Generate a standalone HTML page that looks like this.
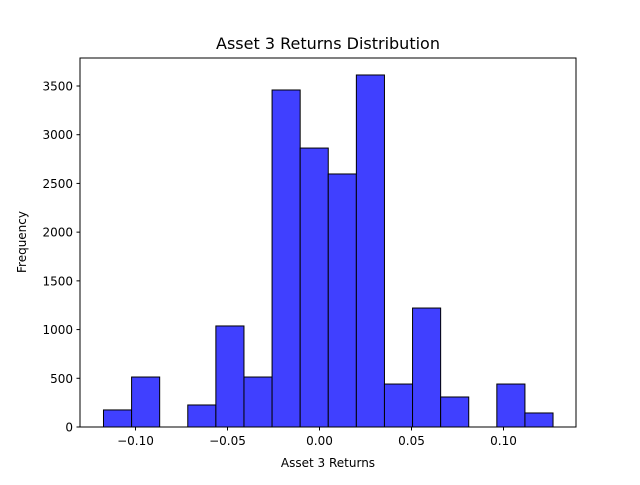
<!DOCTYPE html>
<html><head><meta charset="utf-8"><style>
body{margin:0;background:#fff;}
svg text{font-family:"DejaVu Sans","Liberation Sans",sans-serif;fill:#000;}
</style></head><body>
<svg id="chart" width="640" height="480">
<rect x="0" y="0" width="640" height="480" fill="#fff"/>
<text x="328" y="49" font-size="16" text-anchor="middle">Asset 3 Returns Distribution</text>
<g id="bars"></g>
<g id="xticks"></g>
<g id="yticks"></g>
<rect x="80" y="58" width="496" height="369" fill="none" stroke="#000" stroke-width="1"/>
<text x="328" y="467" font-size="12" text-anchor="middle">Asset 3 Returns</text>
<text x="26" y="242" font-size="12" text-anchor="middle" transform="rotate(-90 26 242)">Frequency</text>
</svg>
<script>
const binStart = -0.1174;
const binWidth = 0.01527;
const counts = [175, 513, 0, 226, 1037, 513, 3459, 2863, 2597, 3613, 441, 1221, 308, 0, 441, 144];
const xTickValues = [-0.10, -0.05, 0.00, 0.05, 0.10];
const xTickLabels = ["\u22120.10", "\u22120.05", "0.00", "0.05", "0.10"];
const yTickValues = [0, 500, 1000, 1500, 2000, 2500, 3000, 3500];
const yTickLabels = ["0", "500", "1000", "1500", "2000", "2500", "3000", "3500"];

const NS = "http://www.w3.org/2000/svg";
function xs(v){ return 319.5 + v * 1840; }
function ys(v){ return 427 - v * 0.09743; }
const bars = document.getElementById('bars');
counts.forEach((c, i) => {
  if (c <= 0) return;
  const x0 = xs(binStart + i * binWidth), x1 = xs(binStart + (i + 1) * binWidth);
  const r = document.createElementNS(NS, 'rect');
  r.setAttribute('x', x0); r.setAttribute('width', x1 - x0);
  r.setAttribute('y', ys(c)); r.setAttribute('height', ys(0) - ys(c));
  r.setAttribute('fill', 'rgb(64,64,255)'); r.setAttribute('stroke', '#000'); r.setAttribute('stroke-width', '1');
  
  
  bars.appendChild(r);
});
const xg = document.getElementById('xticks');
xTickValues.forEach((v, i) => {
  const x = xs(v);
  const l = document.createElementNS(NS, 'line');
  l.setAttribute('x1', x); l.setAttribute('x2', x); l.setAttribute('y1', 427); l.setAttribute('y2', 430.5);
  l.setAttribute('stroke', '#000');
  
  
  xg.appendChild(l);
  const t = document.createElementNS(NS, 'text');
  t.setAttribute('x', x); t.setAttribute('y', 445); t.setAttribute('font-size', '12'); t.setAttribute('text-anchor', 'middle');
  t.textContent = xTickLabels[i];
  
  
  xg.appendChild(t);
});
const yg = document.getElementById('yticks');
yTickValues.forEach((v, i) => {
  const y = ys(v);
  const l = document.createElementNS(NS, 'line');
  l.setAttribute('x1', 76.5); l.setAttribute('x2', 80); l.setAttribute('y1', y); l.setAttribute('y2', y);
  l.setAttribute('stroke', '#000');
  
  
  yg.appendChild(l);
  const t = document.createElementNS(NS, 'text');
  t.setAttribute('x', 73); t.setAttribute('y', y + 4.5); t.setAttribute('font-size', '12'); t.setAttribute('text-anchor', 'end');
  t.textContent = yTickLabels[i];
  
  
  yg.appendChild(t);
});
</script>
</body></html>
